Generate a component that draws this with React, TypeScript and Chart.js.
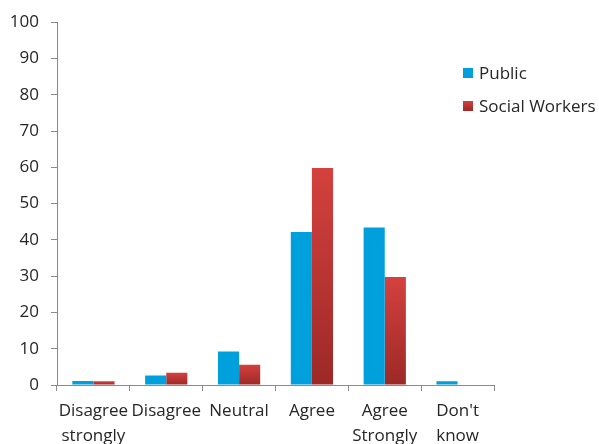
import React, { useEffect, useRef } from "react";
import { Chart, registerables } from "chart.js";

Chart.register(...registerables);

const categories: (string | string[])[] = [
  ["Disagree", "strongly"],
  "Disagree",
  "Neutral",
  "Agree",
  ["Agree", "Strongly"],
  ["Don't", "know"],
];

const publicValues = [1.1, 2.6, 9.2, 42.2, 43.4, 1.0];
const socialWorkerValues = [1.0, 3.4, 5.6, 59.8, 29.8, 0];

const seriesNames = ["Public", "Social Workers"];

const FONT = "'Open Sans', 'DejaVu Sans', sans-serif";
const BLUE = "#00a0dc";
const RED_TOP = "#d4413e";
const RED_BOTTOM = "#9c2927";
const AXIS_GRAY = "#8a8a8a";
const TEXT = "#262626";

// Vertical shade for each red bar: lighter at its top, darker at its base.
function redShade(ctx: any) {
  const chart = ctx.chart;
  const y = chart.scales?.y;
  if (!y || ctx.parsed == null) return RED_TOP;
  const top = y.getPixelForValue(ctx.parsed.y);
  const base = y.getPixelForValue(0);
  if (!isFinite(top) || !isFinite(base) || base - top < 1) return RED_BOTTOM;
  const g = chart.ctx.createLinearGradient(0, top, 0, base);
  g.addColorStop(0, RED_TOP);
  g.addColorStop(1, RED_BOTTOM);
  return g;
}

// Legend drawn inside the empty upper right of the plot.
const sideLegend = {
  id: "sideLegend",
  afterDraw(chart: any) {
    const ctx = chart.ctx;
    const boxX = 463;
    const textX = 479;
    const rows = [73, 106];
    ctx.save();
    ctx.font = `17px ${FONT}`;
    ctx.textBaseline = "middle";
    ctx.textAlign = "left";
    seriesNames.forEach((name, i) => {
      const cy = rows[i];
      if (i === 0) {
        ctx.fillStyle = BLUE;
      } else {
        const g = ctx.createLinearGradient(0, cy - 5, 0, cy + 5);
        g.addColorStop(0, RED_TOP);
        g.addColorStop(1, RED_BOTTOM);
        ctx.fillStyle = g;
      }
      ctx.fillRect(boxX, cy - 5, 10, 10);
      ctx.fillStyle = TEXT;
      ctx.fillText(name, textX, cy + 1);
    });
    ctx.restore();
  },
};

export default function App() {
  const canvasRef = useRef<HTMLCanvasElement | null>(null);

  useEffect(() => {
    const canvas = canvasRef.current;
    if (!canvas) return;
    const chart = new Chart(canvas, {
      type: "bar",
      data: {
        labels: categories,
        datasets: [
          {
            label: seriesNames[0],
            data: publicValues,
            backgroundColor: BLUE,
            borderWidth: 0,
          },
          {
            label: seriesNames[1],
            data: socialWorkerValues,
            backgroundColor: redShade,
            borderWidth: 0,
          },
        ],
      },
      options: {
        responsive: false,
        animation: false,
        devicePixelRatio: 1,
        layout: { padding: { left: 0, top: 18, right: 105, bottom: 0 } },
        datasets: {
          bar: { categoryPercentage: 0.58, barPercentage: 1.0 },
        },
        plugins: {
          legend: { display: false },
          tooltip: { enabled: false },
        },
        scales: {
          x: {
            grid: {
              display: true,
              drawOnChartArea: false,
              drawTicks: true,
              tickLength: 6,
              color: AXIS_GRAY,
              offset: true,
            },
            border: { display: true, color: AXIS_GRAY, width: 1 },
            ticks: {
              color: TEXT,
              font: { family: FONT, size: 17, lineHeight: 25 / 17 },
              padding: 8,
              maxRotation: 0,
              autoSkip: false,
            },
            afterFit: (s: any) => {
              s.height = 59;
            },
          },
          y: {
            min: 0,
            max: 100,
            grid: {
              display: true,
              drawOnChartArea: false,
              drawTicks: true,
              tickLength: 6,
              color: AXIS_GRAY,
            },
            border: { display: true, color: AXIS_GRAY, width: 1 },
            ticks: {
              stepSize: 10,
              color: TEXT,
              font: { family: FONT, size: 17 },
              padding: 12,
            },
            afterFit: (s: any) => {
              s.width = 57;
            },
          },
        },
      },
      plugins: [sideLegend],
    });
    return () => chart.destroy();
  }, []);

  return (
    <div
      style={{
        position: "fixed",
        left: 0,
        top: 0,
        width: 599,
        height: 444,
        background: "#ffffff",
      }}
    >
      <canvas ref={canvasRef} width={599} height={444} />
    </div>
  );
}
